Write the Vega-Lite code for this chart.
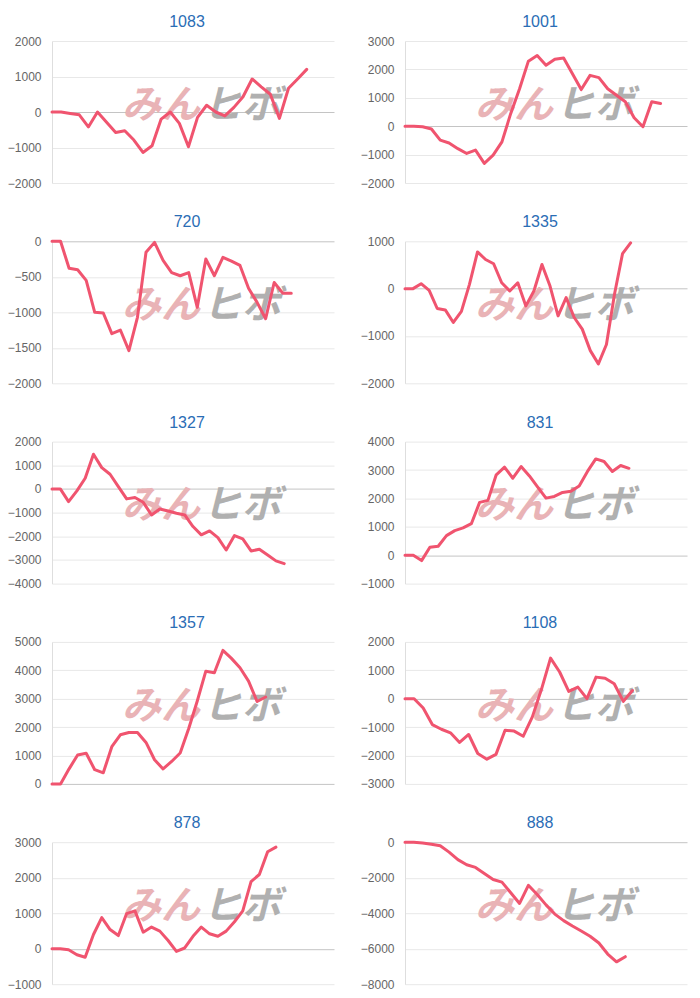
{
"$schema":"https://vega.github.io/schema/vega-lite/v6.json",
"padding":{"left":7,"top":14,"right":5,"bottom":2},
"spacing":{"row":25.3,"column":26},
"columns":2,
"datasets":{
"logo":[{"part":"みん"},{"part":"ヒボ"}],
"pl":[
{"chart":"1083","i":0,"v":0},{"chart":"1083","i":1,"v":0},{"chart":"1083","i":2,"v":-40},{"chart":"1083","i":3,"v":-80},{"chart":"1083","i":4,"v":-420},{"chart":"1083","i":5,"v":0},{"chart":"1083","i":6,"v":-290},{"chart":"1083","i":7,"v":-580},{"chart":"1083","i":8,"v":-530},{"chart":"1083","i":9,"v":-790},{"chart":"1083","i":10,"v":-1140},{"chart":"1083","i":11,"v":-950},{"chart":"1083","i":12,"v":-200},{"chart":"1083","i":13,"v":0},{"chart":"1083","i":14,"v":-320},{"chart":"1083","i":15,"v":-980},{"chart":"1083","i":16,"v":-150},{"chart":"1083","i":17,"v":190},{"chart":"1083","i":18,"v":0},{"chart":"1083","i":19,"v":-110},{"chart":"1083","i":20,"v":130},{"chart":"1083","i":21,"v":430},{"chart":"1083","i":22,"v":930},{"chart":"1083","i":23,"v":710},{"chart":"1083","i":24,"v":500},{"chart":"1083","i":25,"v":-180},{"chart":"1083","i":26,"v":670},{"chart":"1083","i":27,"v":930},{"chart":"1083","i":28,"v":1200},
{"chart":"1001","i":0,"v":0},{"chart":"1001","i":1,"v":0},{"chart":"1001","i":2,"v":-20},{"chart":"1001","i":3,"v":-100},{"chart":"1001","i":4,"v":-490},{"chart":"1001","i":5,"v":-590},{"chart":"1001","i":6,"v":-790},{"chart":"1001","i":7,"v":-960},{"chart":"1001","i":8,"v":-840},{"chart":"1001","i":9,"v":-1310},{"chart":"1001","i":10,"v":-1020},{"chart":"1001","i":11,"v":-550},{"chart":"1001","i":12,"v":450},{"chart":"1001","i":13,"v":1320},{"chart":"1001","i":14,"v":2290},{"chart":"1001","i":15,"v":2490},{"chart":"1001","i":16,"v":2150},{"chart":"1001","i":17,"v":2360},{"chart":"1001","i":18,"v":2400},{"chart":"1001","i":19,"v":1850},{"chart":"1001","i":20,"v":1290},{"chart":"1001","i":21,"v":1790},{"chart":"1001","i":22,"v":1710},{"chart":"1001","i":23,"v":1320},{"chart":"1001","i":24,"v":1090},{"chart":"1001","i":25,"v":860},{"chart":"1001","i":26,"v":300},{"chart":"1001","i":27,"v":-20},{"chart":"1001","i":28,"v":860},{"chart":"1001","i":29,"v":800},
{"chart":"720","i":0,"v":0},{"chart":"720","i":1,"v":0},{"chart":"720","i":2,"v":-380},{"chart":"720","i":3,"v":-400},{"chart":"720","i":4,"v":-550},{"chart":"720","i":5,"v":-1000},{"chart":"720","i":6,"v":-1010},{"chart":"720","i":7,"v":-1300},{"chart":"720","i":8,"v":-1250},{"chart":"720","i":9,"v":-1540},{"chart":"720","i":10,"v":-1070},{"chart":"720","i":11,"v":-155},{"chart":"720","i":12,"v":-15},{"chart":"720","i":13,"v":-270},{"chart":"720","i":14,"v":-440},{"chart":"720","i":15,"v":-485},{"chart":"720","i":16,"v":-440},{"chart":"720","i":17,"v":-930},{"chart":"720","i":18,"v":-250},{"chart":"720","i":19,"v":-485},{"chart":"720","i":20,"v":-225},{"chart":"720","i":21,"v":-280},{"chart":"720","i":22,"v":-340},{"chart":"720","i":23,"v":-660},{"chart":"720","i":24,"v":-860},{"chart":"720","i":25,"v":-1090},{"chart":"720","i":26,"v":-580},{"chart":"720","i":27,"v":-730},{"chart":"720","i":28,"v":-730},
{"chart":"1335","i":0,"v":0},{"chart":"1335","i":1,"v":0},{"chart":"1335","i":2,"v":105},{"chart":"1335","i":3,"v":-35},{"chart":"1335","i":4,"v":-420},{"chart":"1335","i":5,"v":-450},{"chart":"1335","i":6,"v":-715},{"chart":"1335","i":7,"v":-480},{"chart":"1335","i":8,"v":90},{"chart":"1335","i":9,"v":776},{"chart":"1335","i":10,"v":615},{"chart":"1335","i":11,"v":525},{"chart":"1335","i":12,"v":125},{"chart":"1335","i":13,"v":-50},{"chart":"1335","i":14,"v":125},{"chart":"1335","i":15,"v":-365},{"chart":"1335","i":16,"v":-50},{"chart":"1335","i":17,"v":510},{"chart":"1335","i":18,"v":55},{"chart":"1335","i":19,"v":-575},{"chart":"1335","i":20,"v":-190},{"chart":"1335","i":21,"v":-610},{"chart":"1335","i":22,"v":-855},{"chart":"1335","i":23,"v":-1310},{"chart":"1335","i":24,"v":-1590},{"chart":"1335","i":25,"v":-1180},{"chart":"1335","i":26,"v":-120},{"chart":"1335","i":27,"v":740},{"chart":"1335","i":28,"v":965},
{"chart":"1327","i":0,"v":0},{"chart":"1327","i":1,"v":0},{"chart":"1327","i":2,"v":-535},{"chart":"1327","i":3,"v":-85},{"chart":"1327","i":4,"v":450},{"chart":"1327","i":5,"v":1465},{"chart":"1327","i":6,"v":900},{"chart":"1327","i":7,"v":620},{"chart":"1327","i":8,"v":100},{"chart":"1327","i":9,"v":-420},{"chart":"1327","i":10,"v":-365},{"chart":"1327","i":11,"v":-565},{"chart":"1327","i":12,"v":-1100},{"chart":"1327","i":13,"v":-845},{"chart":"1327","i":14,"v":-930},{"chart":"1327","i":15,"v":-1030},{"chart":"1327","i":16,"v":-1100},{"chart":"1327","i":17,"v":-1590},{"chart":"1327","i":18,"v":-1940},{"chart":"1327","i":19,"v":-1775},{"chart":"1327","i":20,"v":-2055},{"chart":"1327","i":21,"v":-2580},{"chart":"1327","i":22,"v":-1970},{"chart":"1327","i":23,"v":-2110},{"chart":"1327","i":24,"v":-2620},{"chart":"1327","i":25,"v":-2550},{"chart":"1327","i":26,"v":-2790},{"chart":"1327","i":27,"v":-3040},{"chart":"1327","i":28,"v":-3155},
{"chart":"831","i":0,"v":0},{"chart":"831","i":1,"v":0},{"chart":"831","i":2,"v":-190},{"chart":"831","i":3,"v":280},{"chart":"831","i":4,"v":315},{"chart":"831","i":5,"v":690},{"chart":"831","i":6,"v":865},{"chart":"831","i":7,"v":960},{"chart":"831","i":8,"v":1110},{"chart":"831","i":9,"v":1860},{"chart":"831","i":10,"v":1930},{"chart":"831","i":11,"v":2830},{"chart":"831","i":12,"v":3100},{"chart":"831","i":13,"v":2710},{"chart":"831","i":14,"v":3120},{"chart":"831","i":15,"v":2790},{"chart":"831","i":16,"v":2400},{"chart":"831","i":17,"v":2010},{"chart":"831","i":18,"v":2070},{"chart":"831","i":19,"v":2210},{"chart":"831","i":20,"v":2250},{"chart":"831","i":21,"v":2440},{"chart":"831","i":22,"v":2950},{"chart":"831","i":23,"v":3390},{"chart":"831","i":24,"v":3300},{"chart":"831","i":25,"v":2950},{"chart":"831","i":26,"v":3160},{"chart":"831","i":27,"v":3060},
{"chart":"1357","i":0,"v":0},{"chart":"1357","i":1,"v":0},{"chart":"1357","i":2,"v":530},{"chart":"1357","i":3,"v":1020},{"chart":"1357","i":4,"v":1080},{"chart":"1357","i":5,"v":500},{"chart":"1357","i":6,"v":390},{"chart":"1357","i":7,"v":1310},{"chart":"1357","i":8,"v":1730},{"chart":"1357","i":9,"v":1810},{"chart":"1357","i":10,"v":1810},{"chart":"1357","i":11,"v":1460},{"chart":"1357","i":12,"v":850},{"chart":"1357","i":13,"v":525},{"chart":"1357","i":14,"v":790},{"chart":"1357","i":15,"v":1090},{"chart":"1357","i":16,"v":1950},{"chart":"1357","i":17,"v":2920},{"chart":"1357","i":18,"v":3970},{"chart":"1357","i":19,"v":3915},{"chart":"1357","i":20,"v":4700},{"chart":"1357","i":21,"v":4420},{"chart":"1357","i":22,"v":4090},{"chart":"1357","i":23,"v":3620},{"chart":"1357","i":24,"v":2900},{"chart":"1357","i":25,"v":3060},
{"chart":"1108","i":0,"v":0},{"chart":"1108","i":1,"v":0},{"chart":"1108","i":2,"v":-330},{"chart":"1108","i":3,"v":-910},{"chart":"1108","i":4,"v":-1075},{"chart":"1108","i":5,"v":-1200},{"chart":"1108","i":6,"v":-1540},{"chart":"1108","i":7,"v":-1260},{"chart":"1108","i":8,"v":-1930},{"chart":"1108","i":9,"v":-2130},{"chart":"1108","i":10,"v":-1960},{"chart":"1108","i":11,"v":-1110},{"chart":"1108","i":12,"v":-1140},{"chart":"1108","i":13,"v":-1320},{"chart":"1108","i":14,"v":-640},{"chart":"1108","i":15,"v":330},{"chart":"1108","i":16,"v":1430},{"chart":"1108","i":17,"v":940},{"chart":"1108","i":18,"v":260},{"chart":"1108","i":19,"v":410},{"chart":"1108","i":20,"v":0},{"chart":"1108","i":21,"v":760},{"chart":"1108","i":22,"v":720},{"chart":"1108","i":23,"v":525},{"chart":"1108","i":24,"v":-95},{"chart":"1108","i":25,"v":290},
{"chart":"878","i":0,"v":0},{"chart":"878","i":1,"v":0},{"chart":"878","i":2,"v":-30},{"chart":"878","i":3,"v":-170},{"chart":"878","i":4,"v":-240},{"chart":"878","i":5,"v":400},{"chart":"878","i":6,"v":875},{"chart":"878","i":7,"v":540},{"chart":"878","i":8,"v":370},{"chart":"878","i":9,"v":990},{"chart":"878","i":10,"v":1065},{"chart":"878","i":11,"v":465},{"chart":"878","i":12,"v":610},{"chart":"878","i":13,"v":495},{"chart":"878","i":14,"v":230},{"chart":"878","i":15,"v":-75},{"chart":"878","i":16,"v":20},{"chart":"878","i":17,"v":350},{"chart":"878","i":18,"v":610},{"chart":"878","i":19,"v":420},{"chart":"878","i":20,"v":350},{"chart":"878","i":21,"v":495},{"chart":"878","i":22,"v":760},{"chart":"878","i":23,"v":1065},{"chart":"878","i":24,"v":1890},{"chart":"878","i":25,"v":2090},{"chart":"878","i":26,"v":2730},{"chart":"878","i":27,"v":2860},
{"chart":"888","i":0,"v":0},{"chart":"888","i":1,"v":0},{"chart":"888","i":2,"v":-40},{"chart":"888","i":3,"v":-110},{"chart":"888","i":4,"v":-200},{"chart":"888","i":5,"v":-560},{"chart":"888","i":6,"v":-980},{"chart":"888","i":7,"v":-1270},{"chart":"888","i":8,"v":-1420},{"chart":"888","i":9,"v":-1760},{"chart":"888","i":10,"v":-2100},{"chart":"888","i":11,"v":-2250},{"chart":"888","i":12,"v":-2850},{"chart":"888","i":13,"v":-3450},{"chart":"888","i":14,"v":-2430},{"chart":"888","i":15,"v":-2950},{"chart":"888","i":16,"v":-3530},{"chart":"888","i":17,"v":-4050},{"chart":"888","i":18,"v":-4420},{"chart":"888","i":19,"v":-4720},{"chart":"888","i":20,"v":-5000},{"chart":"888","i":21,"v":-5300},{"chart":"888","i":22,"v":-5680},{"chart":"888","i":23,"v":-6300},{"chart":"888","i":24,"v":-6740},{"chart":"888","i":25,"v":-6450}
]},
"data":{"name":"pl"},
"concat":[
{"title":"1083","width":282,"height":142,"resolve":{"scale":{"x":"independent","y":"independent"}},"layer":[
{"data":{"name":"logo"},"transform":[{"filter":"datum.part === 'みん'"}],"mark":{"type":"text","align":"right","baseline":"middle","font":"Noto Sans CJK JP","fontSize":39,"fontWeight":"bold","fontStyle":"italic","color":"#e9b3b6"},"encoding":{"x":{"datum":0.525,"type":"quantitative","scale":{"domain":[0,1]},"axis":null},"y":{"datum":0.545,"type":"quantitative","scale":{"domain":[0,1]},"axis":null},"text":{"field":"part"}}},
{"data":{"name":"logo"},"transform":[{"filter":"datum.part === 'ヒボ'"}],"mark":{"type":"text","align":"left","baseline":"middle","font":"Noto Sans CJK JP","fontSize":39,"fontWeight":"bold","fontStyle":"italic","color":"#b0b0b0"},"encoding":{"x":{"datum":0.535,"type":"quantitative","scale":{"domain":[0,1]},"axis":null},"y":{"datum":0.545,"type":"quantitative","scale":{"domain":[0,1]},"axis":null},"text":{"field":"part"}}},
{"transform":[{"filter":"datum.chart === '1083'"}],"mark":{"type":"line","color":"#f0546f","strokeWidth":3,"strokeJoin":"round","strokeCap":"round"},"encoding":{"x":{"field":"i","type":"quantitative","scale":{"domain":[0,31],"nice":false,"zero":false},"axis":null},"y":{"field":"v","type":"quantitative","scale":{"domain":[-2000,2000],"nice":false},"axis":{"values":[-2000,-1000,0,1000,2000],"format":"d","grid":true,"gridColor":{"condition":{"test":"datum.value === 0","value":"#c4c4c4"},"value":"#e8e8e8"}}}}}
]},
{"title":"1001","width":282,"height":142,"resolve":{"scale":{"x":"independent","y":"independent"}},"layer":[
{"data":{"name":"logo"},"transform":[{"filter":"datum.part === 'みん'"}],"mark":{"type":"text","align":"right","baseline":"middle","font":"Noto Sans CJK JP","fontSize":39,"fontWeight":"bold","fontStyle":"italic","color":"#e9b3b6"},"encoding":{"x":{"datum":0.525,"type":"quantitative","scale":{"domain":[0,1]},"axis":null},"y":{"datum":0.545,"type":"quantitative","scale":{"domain":[0,1]},"axis":null},"text":{"field":"part"}}},
{"data":{"name":"logo"},"transform":[{"filter":"datum.part === 'ヒボ'"}],"mark":{"type":"text","align":"left","baseline":"middle","font":"Noto Sans CJK JP","fontSize":39,"fontWeight":"bold","fontStyle":"italic","color":"#b0b0b0"},"encoding":{"x":{"datum":0.535,"type":"quantitative","scale":{"domain":[0,1]},"axis":null},"y":{"datum":0.545,"type":"quantitative","scale":{"domain":[0,1]},"axis":null},"text":{"field":"part"}}},
{"transform":[{"filter":"datum.chart === '1001'"}],"mark":{"type":"line","color":"#f0546f","strokeWidth":3,"strokeJoin":"round","strokeCap":"round"},"encoding":{"x":{"field":"i","type":"quantitative","scale":{"domain":[0,32],"nice":false,"zero":false},"axis":null},"y":{"field":"v","type":"quantitative","scale":{"domain":[-2000,3000],"nice":false},"axis":{"values":[-2000,-1000,0,1000,2000,3000],"format":"d","grid":true,"gridColor":{"condition":{"test":"datum.value === 0","value":"#c4c4c4"},"value":"#e8e8e8"}}}}}
]},
{"title":"720","width":282,"height":142,"resolve":{"scale":{"x":"independent","y":"independent"}},"layer":[
{"data":{"name":"logo"},"transform":[{"filter":"datum.part === 'みん'"}],"mark":{"type":"text","align":"right","baseline":"middle","font":"Noto Sans CJK JP","fontSize":39,"fontWeight":"bold","fontStyle":"italic","color":"#e9b3b6"},"encoding":{"x":{"datum":0.525,"type":"quantitative","scale":{"domain":[0,1]},"axis":null},"y":{"datum":0.545,"type":"quantitative","scale":{"domain":[0,1]},"axis":null},"text":{"field":"part"}}},
{"data":{"name":"logo"},"transform":[{"filter":"datum.part === 'ヒボ'"}],"mark":{"type":"text","align":"left","baseline":"middle","font":"Noto Sans CJK JP","fontSize":39,"fontWeight":"bold","fontStyle":"italic","color":"#b0b0b0"},"encoding":{"x":{"datum":0.535,"type":"quantitative","scale":{"domain":[0,1]},"axis":null},"y":{"datum":0.545,"type":"quantitative","scale":{"domain":[0,1]},"axis":null},"text":{"field":"part"}}},
{"transform":[{"filter":"datum.chart === '720'"}],"mark":{"type":"line","color":"#f0546f","strokeWidth":3,"strokeJoin":"round","strokeCap":"round"},"encoding":{"x":{"field":"i","type":"quantitative","scale":{"domain":[0,33],"nice":false,"zero":false},"axis":null},"y":{"field":"v","type":"quantitative","scale":{"domain":[-2000,0],"nice":false},"axis":{"values":[-2000,-1500,-1000,-500,0],"format":"d","grid":true,"gridColor":{"condition":{"test":"datum.value === 0","value":"#c4c4c4"},"value":"#e8e8e8"}}}}}
]},
{"title":"1335","width":282,"height":142,"resolve":{"scale":{"x":"independent","y":"independent"}},"layer":[
{"data":{"name":"logo"},"transform":[{"filter":"datum.part === 'みん'"}],"mark":{"type":"text","align":"right","baseline":"middle","font":"Noto Sans CJK JP","fontSize":39,"fontWeight":"bold","fontStyle":"italic","color":"#e9b3b6"},"encoding":{"x":{"datum":0.525,"type":"quantitative","scale":{"domain":[0,1]},"axis":null},"y":{"datum":0.545,"type":"quantitative","scale":{"domain":[0,1]},"axis":null},"text":{"field":"part"}}},
{"data":{"name":"logo"},"transform":[{"filter":"datum.part === 'ヒボ'"}],"mark":{"type":"text","align":"left","baseline":"middle","font":"Noto Sans CJK JP","fontSize":39,"fontWeight":"bold","fontStyle":"italic","color":"#b0b0b0"},"encoding":{"x":{"datum":0.535,"type":"quantitative","scale":{"domain":[0,1]},"axis":null},"y":{"datum":0.545,"type":"quantitative","scale":{"domain":[0,1]},"axis":null},"text":{"field":"part"}}},
{"transform":[{"filter":"datum.chart === '1335'"}],"mark":{"type":"line","color":"#f0546f","strokeWidth":3,"strokeJoin":"round","strokeCap":"round"},"encoding":{"x":{"field":"i","type":"quantitative","scale":{"domain":[0,35],"nice":false,"zero":false},"axis":null},"y":{"field":"v","type":"quantitative","scale":{"domain":[-2000,1000],"nice":false},"axis":{"values":[-2000,-1000,0,1000],"format":"d","grid":true,"gridColor":{"condition":{"test":"datum.value === 0","value":"#c4c4c4"},"value":"#e8e8e8"}}}}}
]},
{"title":"1327","width":282,"height":142,"resolve":{"scale":{"x":"independent","y":"independent"}},"layer":[
{"data":{"name":"logo"},"transform":[{"filter":"datum.part === 'みん'"}],"mark":{"type":"text","align":"right","baseline":"middle","font":"Noto Sans CJK JP","fontSize":39,"fontWeight":"bold","fontStyle":"italic","color":"#e9b3b6"},"encoding":{"x":{"datum":0.525,"type":"quantitative","scale":{"domain":[0,1]},"axis":null},"y":{"datum":0.545,"type":"quantitative","scale":{"domain":[0,1]},"axis":null},"text":{"field":"part"}}},
{"data":{"name":"logo"},"transform":[{"filter":"datum.part === 'ヒボ'"}],"mark":{"type":"text","align":"left","baseline":"middle","font":"Noto Sans CJK JP","fontSize":39,"fontWeight":"bold","fontStyle":"italic","color":"#b0b0b0"},"encoding":{"x":{"datum":0.535,"type":"quantitative","scale":{"domain":[0,1]},"axis":null},"y":{"datum":0.545,"type":"quantitative","scale":{"domain":[0,1]},"axis":null},"text":{"field":"part"}}},
{"transform":[{"filter":"datum.chart === '1327'"}],"mark":{"type":"line","color":"#f0546f","strokeWidth":3,"strokeJoin":"round","strokeCap":"round"},"encoding":{"x":{"field":"i","type":"quantitative","scale":{"domain":[0,34],"nice":false,"zero":false},"axis":null},"y":{"field":"v","type":"quantitative","scale":{"domain":[-4000,2000],"nice":false},"axis":{"values":[-4000,-3000,-2000,-1000,0,1000,2000],"format":"d","grid":true,"gridColor":{"condition":{"test":"datum.value === 0","value":"#c4c4c4"},"value":"#e8e8e8"}}}}}
]},
{"title":"831","width":282,"height":142,"resolve":{"scale":{"x":"independent","y":"independent"}},"layer":[
{"data":{"name":"logo"},"transform":[{"filter":"datum.part === 'みん'"}],"mark":{"type":"text","align":"right","baseline":"middle","font":"Noto Sans CJK JP","fontSize":39,"fontWeight":"bold","fontStyle":"italic","color":"#e9b3b6"},"encoding":{"x":{"datum":0.525,"type":"quantitative","scale":{"domain":[0,1]},"axis":null},"y":{"datum":0.545,"type":"quantitative","scale":{"domain":[0,1]},"axis":null},"text":{"field":"part"}}},
{"data":{"name":"logo"},"transform":[{"filter":"datum.part === 'ヒボ'"}],"mark":{"type":"text","align":"left","baseline":"middle","font":"Noto Sans CJK JP","fontSize":39,"fontWeight":"bold","fontStyle":"italic","color":"#b0b0b0"},"encoding":{"x":{"datum":0.535,"type":"quantitative","scale":{"domain":[0,1]},"axis":null},"y":{"datum":0.545,"type":"quantitative","scale":{"domain":[0,1]},"axis":null},"text":{"field":"part"}}},
{"transform":[{"filter":"datum.chart === '831'"}],"mark":{"type":"line","color":"#f0546f","strokeWidth":3,"strokeJoin":"round","strokeCap":"round"},"encoding":{"x":{"field":"i","type":"quantitative","scale":{"domain":[0,34],"nice":false,"zero":false},"axis":null},"y":{"field":"v","type":"quantitative","scale":{"domain":[-1000,4000],"nice":false},"axis":{"values":[-1000,0,1000,2000,3000,4000],"format":"d","grid":true,"gridColor":{"condition":{"test":"datum.value === 0","value":"#c4c4c4"},"value":"#e8e8e8"}}}}}
]},
{"title":"1357","width":282,"height":142,"resolve":{"scale":{"x":"independent","y":"independent"}},"layer":[
{"data":{"name":"logo"},"transform":[{"filter":"datum.part === 'みん'"}],"mark":{"type":"text","align":"right","baseline":"middle","font":"Noto Sans CJK JP","fontSize":39,"fontWeight":"bold","fontStyle":"italic","color":"#e9b3b6"},"encoding":{"x":{"datum":0.525,"type":"quantitative","scale":{"domain":[0,1]},"axis":null},"y":{"datum":0.545,"type":"quantitative","scale":{"domain":[0,1]},"axis":null},"text":{"field":"part"}}},
{"data":{"name":"logo"},"transform":[{"filter":"datum.part === 'ヒボ'"}],"mark":{"type":"text","align":"left","baseline":"middle","font":"Noto Sans CJK JP","fontSize":39,"fontWeight":"bold","fontStyle":"italic","color":"#b0b0b0"},"encoding":{"x":{"datum":0.535,"type":"quantitative","scale":{"domain":[0,1]},"axis":null},"y":{"datum":0.545,"type":"quantitative","scale":{"domain":[0,1]},"axis":null},"text":{"field":"part"}}},
{"transform":[{"filter":"datum.chart === '1357'"}],"mark":{"type":"line","color":"#f0546f","strokeWidth":3,"strokeJoin":"round","strokeCap":"round"},"encoding":{"x":{"field":"i","type":"quantitative","scale":{"domain":[0,33],"nice":false,"zero":false},"axis":null},"y":{"field":"v","type":"quantitative","scale":{"domain":[0,5000],"nice":false},"axis":{"values":[0,1000,2000,3000,4000,5000],"format":"d","grid":true,"gridColor":{"condition":{"test":"datum.value === 0","value":"#c4c4c4"},"value":"#e8e8e8"}}}}}
]},
{"title":"1108","width":282,"height":142,"resolve":{"scale":{"x":"independent","y":"independent"}},"layer":[
{"data":{"name":"logo"},"transform":[{"filter":"datum.part === 'みん'"}],"mark":{"type":"text","align":"right","baseline":"middle","font":"Noto Sans CJK JP","fontSize":39,"fontWeight":"bold","fontStyle":"italic","color":"#e9b3b6"},"encoding":{"x":{"datum":0.525,"type":"quantitative","scale":{"domain":[0,1]},"axis":null},"y":{"datum":0.545,"type":"quantitative","scale":{"domain":[0,1]},"axis":null},"text":{"field":"part"}}},
{"data":{"name":"logo"},"transform":[{"filter":"datum.part === 'ヒボ'"}],"mark":{"type":"text","align":"left","baseline":"middle","font":"Noto Sans CJK JP","fontSize":39,"fontWeight":"bold","fontStyle":"italic","color":"#b0b0b0"},"encoding":{"x":{"datum":0.535,"type":"quantitative","scale":{"domain":[0,1]},"axis":null},"y":{"datum":0.545,"type":"quantitative","scale":{"domain":[0,1]},"axis":null},"text":{"field":"part"}}},
{"transform":[{"filter":"datum.chart === '1108'"}],"mark":{"type":"line","color":"#f0546f","strokeWidth":3,"strokeJoin":"round","strokeCap":"round"},"encoding":{"x":{"field":"i","type":"quantitative","scale":{"domain":[0,31],"nice":false,"zero":false},"axis":null},"y":{"field":"v","type":"quantitative","scale":{"domain":[-3000,2000],"nice":false},"axis":{"values":[-3000,-2000,-1000,0,1000,2000],"format":"d","grid":true,"gridColor":{"condition":{"test":"datum.value === 0","value":"#c4c4c4"},"value":"#e8e8e8"}}}}}
]},
{"title":"878","width":282,"height":142,"resolve":{"scale":{"x":"independent","y":"independent"}},"layer":[
{"data":{"name":"logo"},"transform":[{"filter":"datum.part === 'みん'"}],"mark":{"type":"text","align":"right","baseline":"middle","font":"Noto Sans CJK JP","fontSize":39,"fontWeight":"bold","fontStyle":"italic","color":"#e9b3b6"},"encoding":{"x":{"datum":0.525,"type":"quantitative","scale":{"domain":[0,1]},"axis":null},"y":{"datum":0.545,"type":"quantitative","scale":{"domain":[0,1]},"axis":null},"text":{"field":"part"}}},
{"data":{"name":"logo"},"transform":[{"filter":"datum.part === 'ヒボ'"}],"mark":{"type":"text","align":"left","baseline":"middle","font":"Noto Sans CJK JP","fontSize":39,"fontWeight":"bold","fontStyle":"italic","color":"#b0b0b0"},"encoding":{"x":{"datum":0.535,"type":"quantitative","scale":{"domain":[0,1]},"axis":null},"y":{"datum":0.545,"type":"quantitative","scale":{"domain":[0,1]},"axis":null},"text":{"field":"part"}}},
{"transform":[{"filter":"datum.chart === '878'"}],"mark":{"type":"line","color":"#f0546f","strokeWidth":3,"strokeJoin":"round","strokeCap":"round"},"encoding":{"x":{"field":"i","type":"quantitative","scale":{"domain":[0,34],"nice":false,"zero":false},"axis":null},"y":{"field":"v","type":"quantitative","scale":{"domain":[-1000,3000],"nice":false},"axis":{"values":[-1000,0,1000,2000,3000],"format":"d","grid":true,"gridColor":{"condition":{"test":"datum.value === 0","value":"#c4c4c4"},"value":"#e8e8e8"}}}}}
]},
{"title":"888","width":282,"height":142,"resolve":{"scale":{"x":"independent","y":"independent"}},"layer":[
{"data":{"name":"logo"},"transform":[{"filter":"datum.part === 'みん'"}],"mark":{"type":"text","align":"right","baseline":"middle","font":"Noto Sans CJK JP","fontSize":39,"fontWeight":"bold","fontStyle":"italic","color":"#e9b3b6"},"encoding":{"x":{"datum":0.525,"type":"quantitative","scale":{"domain":[0,1]},"axis":null},"y":{"datum":0.545,"type":"quantitative","scale":{"domain":[0,1]},"axis":null},"text":{"field":"part"}}},
{"data":{"name":"logo"},"transform":[{"filter":"datum.part === 'ヒボ'"}],"mark":{"type":"text","align":"left","baseline":"middle","font":"Noto Sans CJK JP","fontSize":39,"fontWeight":"bold","fontStyle":"italic","color":"#b0b0b0"},"encoding":{"x":{"datum":0.535,"type":"quantitative","scale":{"domain":[0,1]},"axis":null},"y":{"datum":0.545,"type":"quantitative","scale":{"domain":[0,1]},"axis":null},"text":{"field":"part"}}},
{"transform":[{"filter":"datum.chart === '888'"}],"mark":{"type":"line","color":"#f0546f","strokeWidth":3,"strokeJoin":"round","strokeCap":"round"},"encoding":{"x":{"field":"i","type":"quantitative","scale":{"domain":[0,32],"nice":false,"zero":false},"axis":null},"y":{"field":"v","type":"quantitative","scale":{"domain":[-8000,0],"nice":false},"axis":{"values":[-8000,-6000,-4000,-2000,0],"format":"d","grid":true,"gridColor":{"condition":{"test":"datum.value === 0","value":"#c4c4c4"},"value":"#e8e8e8"}}}}}
]}
],
"config":{
"view":{"stroke":null},
"axis":{"title":null,"ticks":false,"tickSize":0,"labelPadding":11,"labelColor":"#666666","labelFontSize":12,"labelFont":"Liberation Sans","domain":true,"domainColor":"#dedede"},
"title":{"fontSize":16,"font":"Liberation Sans","color":"#2a6db5","fontWeight":"normal","offset":5,"baseline":"alphabetic","anchor":"middle","frame":"group","dx":-6}
}
}
